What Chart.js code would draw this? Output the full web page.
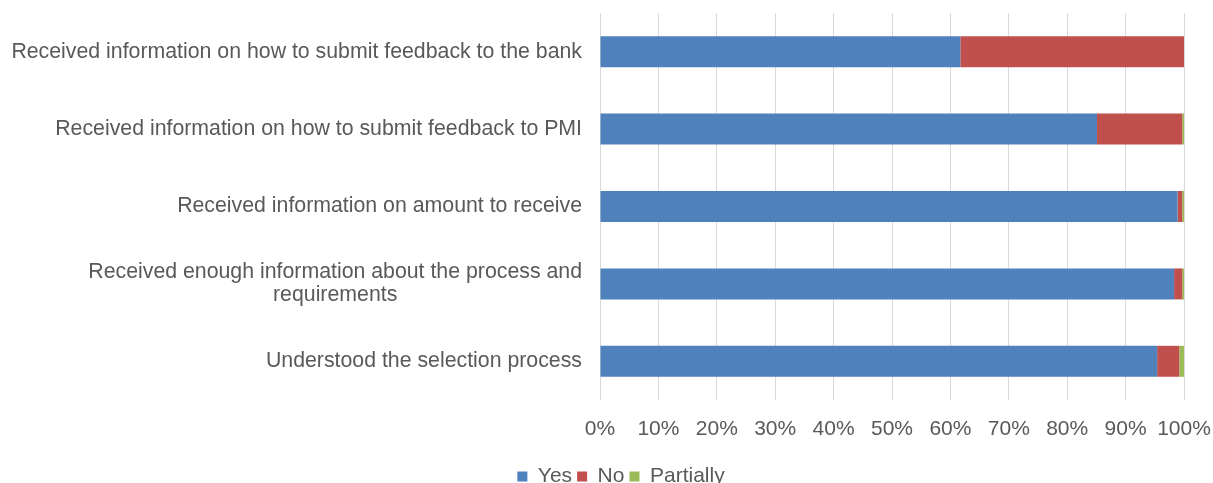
<!DOCTYPE html>
<html>
<head>
<meta charset="utf-8">
<script src="https://cdn.jsdelivr.net/npm/chart.js@4"></script>
<style>
  html, body { margin: 0; padding: 0; background: #fff; overflow: hidden; }
  #wrap { width: 1213px; height: 497px; }
</style>
</head>
<body>
<div id="wrap"><canvas id="surveyChart" width="1213" height="497"></canvas></div>
<script>
const categories = [
    "Received information on how to submit feedback to the bank",
    "Received information on how to submit feedback to PMI",
    "Received information on amount to receive",
    ["Received enough information about the process and", "requirements"],
    "Understood the selection process"
];

const yesValues = [61.7, 85.1, 98.9, 98.3, 95.4];
const noValues = [38.3, 14.6, 0.8, 1.4, 3.8];
const partiallyValues = [0, 0.3, 0.3, 0.3, 0.8];

const xTicks = [0, 10, 20, 30, 40, 50, 60, 70, 80, 90, 100];

const textColor = "#595959";
const fontFamily = "'Liberation Sans', Arial, sans-serif";

// category labels: right-aligned block, wrapped lines centred inside it
const categoryLabels = {
    id: "categoryLabels",
    afterDraw(chart){
        const ctx = chart.ctx;
        const yScale = chart.scales.y;
        const right = chart.chartArea.left - 18;
        const lineGap = 23;
        ctx.save();
        ctx.font = "21.3px " + fontFamily;
        ctx.fillStyle = textColor;
        ctx.textBaseline = "middle";
        ctx.textAlign = "center";
        categories.forEach((label, i) => {
            const lines = Array.isArray(label) ? label : [label];
            const blockWidth = Math.max(...lines.map(l => ctx.measureText(l).width));
            const cx = right - blockWidth / 2;
            const cy = yScale.getPixelForValue(i);
            lines.forEach((line, k) => {
                ctx.fillText(line, cx, cy + (k - (lines.length - 1) / 2) * lineGap);
            });
        });
        ctx.restore();
    }
};

const ctx = document.getElementById("surveyChart").getContext("2d");

new Chart(ctx, {
    type: "bar",
    data: {
        labels: categories,
        datasets: [
            { label: "Yes", data: yesValues, backgroundColor: "#4F81BD" },
            { label: "No", data: noValues, backgroundColor: "#C0504D" },
            { label: "Partially", data: partiallyValues, backgroundColor: "#9BBB59" }
        ]
    },
    options: {
        indexAxis: "y",
        responsive: false,
        animation: false,
        layout: {
            padding: { top: 13, left: 58, right: 29, bottom: 0 }
        },
        datasets: {
            bar: { categoryPercentage: 1, barPercentage: 0.4 }
        },
        scales: {
            x: {
                stacked: true,
                min: 0,
                max: 100,
                afterBuildTicks(scale){
                    scale.ticks = xTicks.map(v => ({ value: v }));
                },
                afterFit(scale){
                    scale.height = 61;
                    // the "100%" label may hang past the plot edge
                    scale.paddingLeft = 0;
                    scale.paddingRight = 0;
                },
                ticks: {
                    padding: 17,
                    color: textColor,
                    font: { size: 21, family: fontFamily },
                    maxRotation: 0,
                    callback: v => v + "%"
                },
                grid: {
                    color: "#D9D9D9",
                    lineWidth: 1,
                    drawTicks: false
                },
                border: { display: false }
            },
            y: {
                stacked: true,
                afterFit(scale){
                    scale.width = 542;
                },
                ticks: { display: false },
                grid: { display: false },
                border: { display: false }
            }
        },
        plugins: {
            legend: {
                position: "bottom",
                labels: {
                    boxWidth: 10,
                    boxHeight: 10,
                    padding: 5,
                    color: textColor,
                    font: { size: 21, family: fontFamily }
                }
            },
            tooltip: { enabled: false }
        }
    },
    plugins: [categoryLabels]
});
</script>
</body>
</html>
